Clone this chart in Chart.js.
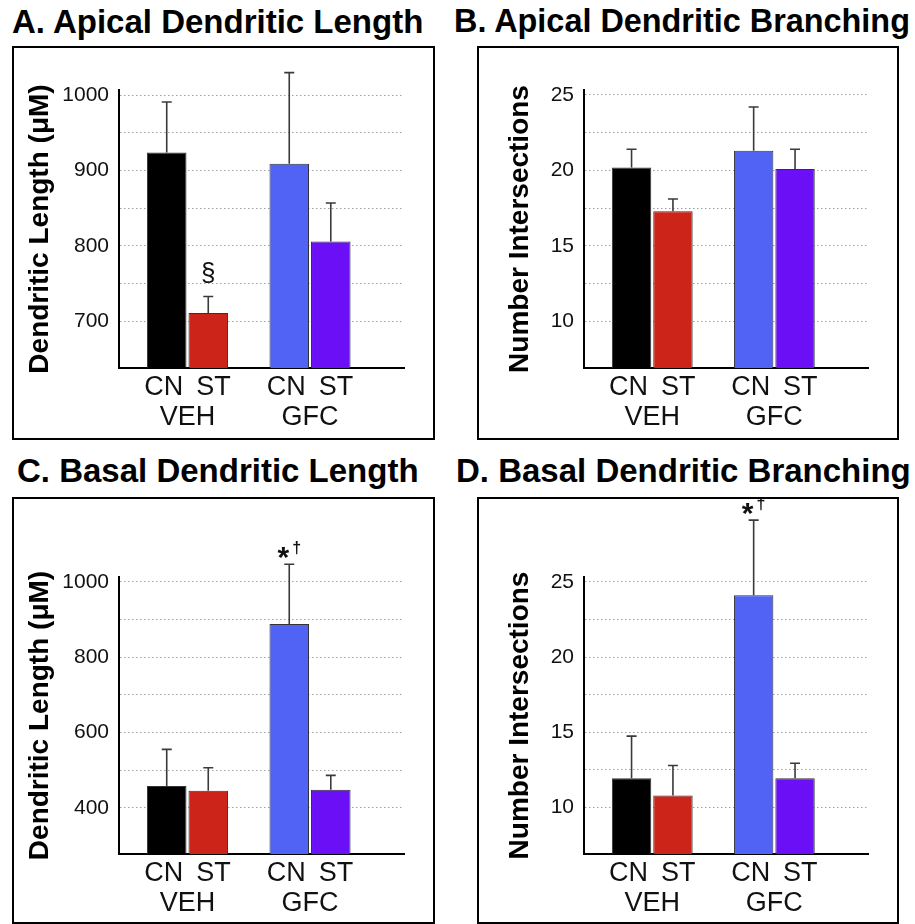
<!DOCTYPE html>
<html>
<head>
<meta charset="utf-8">
<script src="https://cdn.jsdelivr.net/npm/chart.js@4.4.1/dist/chart.umd.min.js"></script>
<style>
html,body{margin:0;padding:0;background:#fff;}
body{width:915px;height:924px;position:relative;overflow:hidden;font-family:"Liberation Sans",Arial,Helvetica,sans-serif;}
.title{position:absolute;font-weight:bold;font-size:33px;line-height:33px;white-space:nowrap;color:#000;}
.box{position:absolute;box-sizing:border-box;border:2px solid #000;pointer-events:none;}
canvas{position:absolute;}
</style>
</head>
<body>
<div class="title" style="left:12px;top:5px">A. Apical Dendritic Length</div>
<div class="title" style="left:454px;top:5px;font-size:32.4px">B. Apical Dendritic Branching</div>
<div class="title" style="left:17px;top:454px">C. Basal Dendritic Length</div>
<div class="title" style="left:456px;top:454px">D. Basal Dendritic Branching</div>

<canvas id="cA" width="423" height="394" style="left:12px;top:46px"></canvas>
<canvas id="cB" width="422" height="394" style="left:477px;top:46px"></canvas>
<canvas id="cC" width="423" height="425" style="left:12px;top:497px"></canvas>
<canvas id="cD" width="422" height="425" style="left:477px;top:497px"></canvas>
<div class="box" style="left:12px;top:46px;width:423px;height:394px"></div>
<div class="box" style="left:477px;top:46px;width:422px;height:394px"></div>
<div class="box" style="left:12px;top:497px;width:423px;height:427px"></div>
<div class="box" style="left:477px;top:497px;width:422px;height:427px"></div>

<script>
// ---------- data ----------
const groups = ['VEH', 'GFC'];
const series = ['CN', 'ST'];

// A. Apical dendritic length (µM)
const apicalLengthCN = [924, 909];
const apicalLengthST = [711, 806];
const apicalLengthErrCN = [67, 121];
const apicalLengthErrST = [22, 51];
const apicalLengthMarksCN = ['', ''];
const apicalLengthMarksST = ['§', ''];

// B. Apical dendritic branching (intersections)
const apicalBranchCN = [20.2, 21.3];
const apicalBranchST = [17.3, 20.1];
const apicalBranchErrCN = [1.2, 2.9];
const apicalBranchErrST = [0.8, 1.3];
const apicalBranchMarksCN = ['', ''];
const apicalBranchMarksST = ['', ''];

// C. Basal dendritic length (µM)
const basalLengthCN = [458, 888];
const basalLengthST = [445, 448];
const basalLengthErrCN = [97, 159];
const basalLengthErrST = [61, 38];
const basalLengthMarksCN = ['', '*†'];
const basalLengthMarksST = ['', ''];

// D. Basal dendritic branching (intersections)
const basalBranchCN = [11.95, 24.1];
const basalBranchST = [10.8, 11.95];
const basalBranchErrCN = [2.8, 5.0];
const basalBranchErrST = [2.0, 1.0];
const basalBranchMarksCN = ['', '*†'];
const basalBranchMarksST = ['', ''];

// tick values and labels
const apicalLengthTicks = [700, 750, 800, 850, 900, 950, 1000];
const apicalLengthTickLabels = ['700', '', '800', '', '900', '', '1000'];
const basalLengthTicks = [400, 500, 600, 700, 800, 900, 1000];
const basalLengthTickLabels = ['400', '', '600', '', '800', '', '1000'];
const branchTicks = [10, 12.5, 15, 17.5, 20, 22.5, 25];
const branchTickLabels = ['10', '', '15', '', '20', '', '25'];

// ---------- styles ----------
const FONT = '"Liberation Sans", Arial, Helvetica, sans-serif';
Chart.defaults.font.family = FONT;
Chart.defaults.color = '#111';
const colorsCN = ['#000000', '#5163f5'];
const colorsST = ['#cc2419', '#6b10f6'];

const errorBarPlugin = {
  id: 'errorBars',
  afterDatasetsDraw(chart, args, opts) {
    const ctx = chart.ctx;
    const yScale = chart.scales.y;
    chart.data.datasets.forEach((ds, di) => {
      const meta = chart.getDatasetMeta(di);
      meta.data.forEach((bar, j) => {
        const v = ds.data[j].y;
        const top = yScale.getPixelForValue(v + ds.errors[j]);
        ctx.save();
        ctx.strokeStyle = opts.color;
        ctx.lineWidth = opts.width;
        ctx.beginPath();
        ctx.moveTo(bar.x, bar.y);
        ctx.lineTo(bar.x, top);
        ctx.moveTo(bar.x - opts.cap / 2, top);
        ctx.lineTo(bar.x + opts.cap / 2, top);
        ctx.stroke();
        const mark = ds.marks[j];
        if (mark) {
          const chars = Array.from(mark);
          const main = chars[0];
          const sup = chars.slice(1).join('');
          const m = opts.mark;
          ctx.fillStyle = '#111';
          ctx.textBaseline = 'alphabetic';
          ctx.textAlign = 'left';
          const mainFont = m.weight + ' ' + m.size + 'px ' + FONT;
          const supFont = m.weight + ' ' + m.supSize + 'px ' + FONT;
          ctx.font = mainFont;
          const wMain = ctx.measureText(main).width;
          ctx.font = supFont;
          const wSup = sup ? ctx.measureText(sup).width + m.supGap : 0;
          const x0 = bar.x - (wMain + wSup) / 2;
          const base = top - m.offset;
          ctx.font = mainFont;
          ctx.fillText(main, x0, base);
          if (sup) {
            ctx.font = supFont;
            ctx.fillText(sup, x0 + wMain + m.supGap, base - m.supRise);
          }
        }
        ctx.restore();
      });
    });
  }
};

function makeChart(id, cfg) {
  const ticksY = cfg.ticks;
  const labelsY = cfg.tickLabels;
  return new Chart(document.getElementById(id), {
    type: 'bar',
    data: {
      datasets: [
        {
          label: series[0],
          data: cfg.cn.map((v, i) => ({x: i, y: v})),
          errors: cfg.errCN,
          marks: cfg.marksCN,
          backgroundColor: colorsCN,
          borderColor: '#333',
          borderWidth: 1
        },
        {
          label: series[1],
          data: cfg.st.map((v, i) => ({x: i, y: v})),
          errors: cfg.errST,
          marks: cfg.marksST,
          backgroundColor: colorsST,
          borderColor: '#333',
          borderWidth: 1
        }
      ]
    },
    options: {
      responsive: false,
      animation: false,
      events: [],
      categoryPercentage: 0.678,
      barPercentage: 0.952,
      layout: {padding: {top: cfg.padTop, right: 31, left: 0, bottom: 0}},
      plugins: {
        legend: {display: false},
        tooltip: {enabled: false},
        errorBars: {color: '#3a3a3a', width: 1.6, cap: 10, mark: cfg.mark}
      },
      scales: {
        x: {
          type: 'linear',
          min: -0.559,
          max: 1.767,
          offset: false,
          afterFit: s => { s.height = cfg.xHeight; },
          afterBuildTicks: s => { s.ticks = groups.map((g, i) => ({value: i})); },
          grid: {display: false, drawTicks: false, offset: false},
          border: {display: true, color: '#000', width: 2},
          ticks: {
            autoSkip: false,
            maxRotation: 0,
            padding: 5,
            color: '#111',
            font: {size: 27, lineHeight: '30px'},
            callback: (v, i) => [series.join(' \u2009'), groups[i]]
          }
        },
        y: {
          type: 'linear',
          min: cfg.min,
          max: cfg.max,
          afterFit: s => { s.width = 107; },
          afterBuildTicks: s => { s.ticks = ticksY.map(v => ({value: v})); },
          grid: {color: '#a0a0a0', lineWidth: 1, drawTicks: false},
          border: {display: true, color: '#000', width: 2, dash: [1.5, 2.5]},
          ticks: {
            autoSkip: false,
            padding: 10,
            color: '#111',
            font: {size: 21},
            callback: (v, i) => labelsY[i]
          },
          title: {
            display: true,
            text: cfg.yTitle,
            color: '#000',
            font: {size: 28, weight: 'bold', lineHeight: 1.2},
            padding: {top: cfg.titlePad, bottom: 0}
          }
        }
      }
    },
    plugins: [errorBarPlugin]
  });
}

const markDagger = {size: 30, supSize: 16, weight: 'bold', offset: -3, supRise: 14, supGap: 3};
const markSection = {size: 26, supSize: 14, weight: 'normal', offset: 15, supRise: 0, supGap: 0};

makeChart('cA', {
  cn: apicalLengthCN, st: apicalLengthST,
  errCN: apicalLengthErrCN, errST: apicalLengthErrST,
  marksCN: apicalLengthMarksCN, marksST: apicalLengthMarksST,
  ticks: apicalLengthTicks, tickLabels: apicalLengthTickLabels,
  min: 638, max: 1007, padTop: 44, xHeight: 72, titlePad: 11.5,
  yTitle: 'Dendritic Length (μM)', mark: markSection
});
makeChart('cB', {
  cn: apicalBranchCN, st: apicalBranchST,
  errCN: apicalBranchErrCN, errST: apicalBranchErrST,
  marksCN: apicalBranchMarksCN, marksST: apicalBranchMarksST,
  ticks: branchTicks, tickLabels: branchTickLabels,
  min: 6.9, max: 25.33, padTop: 44, xHeight: 72, titlePad: 26.5,
  yTitle: 'Number Intersections', mark: markSection
});
makeChart('cC', {
  cn: basalLengthCN, st: basalLengthST,
  errCN: basalLengthErrCN, errST: basalLengthErrST,
  marksCN: basalLengthMarksCN, marksST: basalLengthMarksST,
  ticks: basalLengthTicks, tickLabels: basalLengthTickLabels,
  min: 277, max: 1013, padTop: 80, xHeight: 68, titlePad: 11.5,
  yTitle: 'Dendritic Length (μM)', mark: markDagger
});
makeChart('cD', {
  cn: basalBranchCN, st: basalBranchST,
  errCN: basalBranchErrCN, errST: basalBranchErrST,
  marksCN: basalBranchMarksCN, marksST: basalBranchMarksST,
  ticks: branchTicks, tickLabels: branchTickLabels,
  min: 6.92, max: 25.32, padTop: 80, xHeight: 68, titlePad: 26.5,
  yTitle: 'Number Intersections', mark: markDagger
});
</script>
</body>
</html>
